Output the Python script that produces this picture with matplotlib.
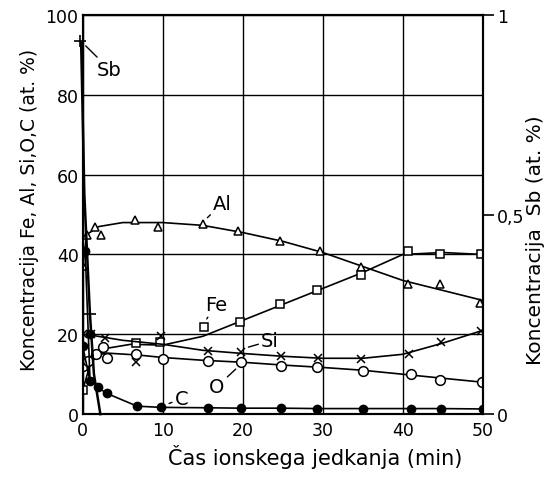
import matplotlib
matplotlib.use("Agg")
import matplotlib.pyplot as plt

# Al (triangles)
al_x = [0, 0.5, 1.5, 2.3, 6.5, 9.4, 15, 19.4, 24.6, 29.7, 34.8, 40.6, 44.6, 49.6]
al_y = [37, 45, 47, 45, 48.7, 47, 47.6, 45.9, 43.4, 40.8, 36.8, 32.6, 32.6, 27.8]
al_cx = [0, 0.5, 2, 5, 10, 15, 20, 25, 30, 35, 40, 45, 50]
al_cy = [37, 45, 47, 48, 48, 47.3, 45.5, 43.3, 40.5, 37, 33.5, 31, 28.5]

# Fe (squares)
fe_x = [0, 6.7, 9.6, 15.2, 19.6, 24.6, 29.3, 34.8, 40.6, 44.7, 49.8]
fe_y = [6, 17.8, 18, 21.9, 23, 27.6, 31.2, 34.8, 41, 40, 40]
fe_cx = [0, 1, 3, 6, 10, 15, 20, 25, 30, 35, 40, 45, 50]
fe_cy = [6, 13, 16.5, 17.5, 17.3, 19.5, 23.5, 27.5, 31.5, 35.5, 40, 40.5, 40]

# Si (crosses)
si_x = [0, 1, 2.75, 6.7, 9.8, 15.6, 19.8, 24.8, 29.4, 34.8, 40.8, 44.8, 49.8]
si_y = [20, 20, 19, 13, 19.6, 15.9, 15.6, 14.6, 14, 13.8, 15, 18.1, 20.9]
si_cx = [0, 1, 5, 10, 15, 20, 25, 30, 35, 40, 45, 50]
si_cy = [20, 19.8, 18.5, 17.5, 16, 15.2, 14.5, 14, 14, 15, 17.8, 21]

# O (open circles)
o_x = [0, 0.6, 1.7, 2.5, 3, 6.7, 10, 15.6, 19.8, 24.8, 29.3, 35, 41, 44.7, 49.9]
o_y = [12, 13.4, 15, 16.8, 14, 15, 13.8, 13.3, 13, 12.1, 11.8, 10.9, 10, 8.6, 8.1]
o_cx = [0, 1, 3, 7, 10, 15, 20, 25, 30, 35, 40, 45, 50]
o_cy = [12, 14.5, 15.3, 14.8, 14.2, 13.5, 13, 12.3, 11.7, 11, 10, 9, 8]

# C (filled circles)
c_x = [0, 0.3, 0.9, 0.9, 1.9, 3, 6.8, 9.8, 15.6, 19.8, 24.8, 29.3, 35, 41, 44.8, 50]
c_y = [17, 41, 20, 8.3, 6.7, 5.2, 2, 1.7, 1.6, 1.5, 1.5, 1.4, 1.4, 1.4, 1.4, 1.3]
c_cx = [0.3, 0.6, 0.9, 1.9, 3, 6.8, 9.8, 15.6, 19.8, 24.8, 29.3, 35, 41, 44.8, 50]
c_cy = [41, 25, 9, 6.7, 5.2, 2, 1.7, 1.6, 1.5, 1.5, 1.4, 1.4, 1.4, 1.4, 1.3]
c2_cx = [0, 0.9]
c2_cy = [17, 8.3]

# Sb (plus, right axis)
sb_x = [-0.3, 0.9]
sb_y = [0.935, 0.25]
sb_cx = [-0.2, 0.2, 0.9, 1.4, 2.2]
sb_cy = [0.93, 0.55, 0.25, 0.1, 0.0]

xticks = [0, 10, 20, 30, 40, 50]
yticks = [0, 20, 40, 60, 80, 100]

plt.rcParams['font.family'] = 'DejaVu Sans'
fig = plt.figure(figsize=(5.48, 4.85), dpi=100)
ax = fig.add_axes([0.151, 0.144, 0.730, 0.823])
ax2 = ax.twinx()

lw = 1.2
ms = 6
ax.plot(al_cx, al_cy, color='k', lw=lw)
ax.plot(al_x, al_y, ls='none', marker='^', ms=ms, mfc='white', mec='k', mew=1.1)
ax.plot(fe_cx, fe_cy, color='k', lw=lw)
ax.plot(fe_x, fe_y, ls='none', marker='s', ms=ms - 0.5, mfc='white', mec='k', mew=1.1)
ax.plot(si_cx, si_cy, color='k', lw=lw)
ax.plot(si_x, si_y, ls='none', marker='x', ms=ms, mec='k', mew=1.1)
ax.plot(o_cx, o_cy, color='k', lw=lw)
ax.plot(o_x, o_y, ls='none', marker='o', ms=ms + 1, mfc='white', mec='k', mew=1.1)
ax.plot(c_cx, c_cy, color='k', lw=lw)
ax.plot(c2_cx, c2_cy, color='k', lw=lw)
ax.plot(c_x, c_y, ls='none', marker='o', ms=ms, mfc='k', mec='k')
ax2.plot(sb_cx, sb_cy, color='k', lw=lw + 0.6, clip_on=False)
ax2.plot(sb_x, sb_y, ls='none', marker='+', ms=ms + 2, mec='k', mew=1.2, clip_on=False)

ax.set_xlim(0, 50)
ax.set_ylim(0, 100)
ax2.set_ylim(0, 1)
ax.set_xticks(xticks)
ax.set_yticks(yticks)
ax.grid(True, color='k', lw=1.0)
ax.tick_params(length=0, labelsize=12.5, pad=5)
ax.tick_params(axis='y', pad=3)
ax2.set_yticks([0, 0.5, 1])
ax2.set_yticklabels(['0', '0,5', '1'])
ax2.tick_params(axis='y', length=8, width=1.2, labelsize=12.5, pad=2)
for a in (ax, ax2):
    for s in a.spines.values():
        s.set_linewidth(1.5)

ax.set_xlabel('Čas ionskega jedkanja (min)', fontsize=15, labelpad=6)
ax.xaxis.set_label_coords(0.58, -0.075)
ax.set_ylabel('Koncentracija Fe, Al, Si,O,C (at. %)', fontsize=13.5, labelpad=4)
ax.yaxis.set_label_coords(-0.11, 0.515)
fig.text(0.978, 0.505, 'Koncentracija  Sb (at. %)', fontsize=14.5,
         rotation=90, ha='center', va='center')

lead = dict(arrowstyle='-', color='k', lw=1.0, shrinkA=0, shrinkB=3)
ax.annotate('Sb', xy=(0.0, 93), xytext=(1.8, 85), fontsize=14, arrowprops=lead)
ax.annotate('Al', xy=(15.2, 48.5), xytext=(16.3, 51.5), fontsize=14, arrowprops=lead)
ax.annotate('Fe', xy=(15.2, 23), xytext=(15.3, 26), fontsize=14, arrowprops=lead)
ax.annotate('Si', xy=(20.2, 16.5), xytext=(22.3, 17), fontsize=14, arrowprops=lead)
ax.annotate('O', xy=(19.5, 12), xytext=(15.8, 5.5), fontsize=14, arrowprops=lead)
ax.annotate('C', xy=(10.3, 2.3), xytext=(11.5, 2.5), fontsize=14, arrowprops=lead)

fig.savefig('out.png', dpi=100)
